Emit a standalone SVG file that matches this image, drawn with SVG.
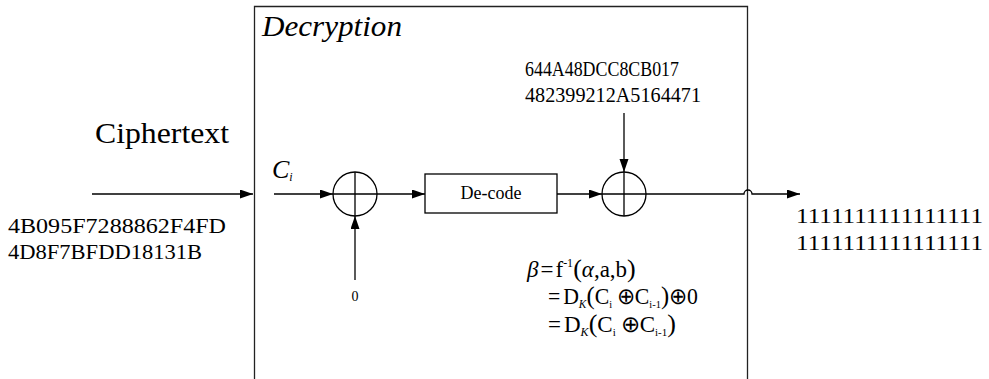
<svg xmlns="http://www.w3.org/2000/svg" width="989" height="379" viewBox="0 0 989 379">
<style>
  text { font-family: "Liberation Serif", "Times New Roman", serif; fill: #000; }
  .ln { fill: none; stroke: #000; stroke-width: 1.3; }
  .shape { fill: #fff; stroke: #000; stroke-width: 1.3; }
  .frame { fill: none; stroke: #222; stroke-width: 1.3; }
</style>
<defs>
  <marker id="ah" markerUnits="userSpaceOnUse" markerWidth="14" markerHeight="10" refX="13" refY="4.5" orient="auto">
    <path d="M0,0 L13,4.5 L0,9 z" fill="#000"/>
  </marker>
</defs>
<rect width="989" height="379" fill="#fff"/>

<g id="decryption-frame">
  <path class="frame" d="M254.5,379 V6.5 H747.5 V379"/>
  <text x="262" y="36" font-size="29" font-style="italic" textLength="140" lengthAdjust="spacingAndGlyphs">Decryption</text>
</g>

<g id="connectors">
  <path class="ln" d="M92,194 H253" marker-end="url(#ah)"/>
  <path class="ln" d="M274,194 H333" marker-end="url(#ah)"/>
  <path class="ln" d="M377,194 H425" marker-end="url(#ah)"/>
  <path class="ln" d="M557,194 H602" marker-end="url(#ah)"/>
  <path class="ln" d="M624,113 V172" marker-end="url(#ah)"/>
  <path class="ln" d="M355,280 V216" marker-end="url(#ah)"/>
  <path class="ln" d="M646,194 H744 A4,4 0 0 1 752,194 H800" marker-end="url(#ah)"/>
</g>

<g id="ciphertext-input">
  <text x="95" y="143" font-size="29" textLength="134" lengthAdjust="spacingAndGlyphs">Ciphertext</text>
  <text x="8" y="233" font-size="21" textLength="218" lengthAdjust="spacingAndGlyphs">4B095F7288862F4FD</text>
  <text x="8" y="259" font-size="21" textLength="194" lengthAdjust="spacingAndGlyphs">4D8F7BFDD18131B</text>
</g>

<g id="ci-label">
  <text x="272" y="178" font-size="26" font-style="italic">C<tspan font-size="12" dy="3">i</tspan></text>
</g>

<g id="xor1">
  <circle class="shape" cx="355" cy="194" r="22"/>
  <path class="ln" d="M333,194 H377 M355,172 V216"/>
</g>

<g id="zero-input">
  <text x="355" y="301" font-size="14" text-anchor="middle">0</text>
</g>

<g id="decode">
  <rect class="shape" x="425" y="174" width="132" height="39"/>
  <text x="491" y="199" font-size="18" text-anchor="middle">De-code</text>
</g>

<g id="xor2">
  <circle class="shape" cx="624" cy="194" r="22"/>
  <path class="ln" d="M602,194 H646 M624,172 V216"/>
</g>

<g id="key">
  <text x="525" y="76" font-size="22" textLength="154" lengthAdjust="spacingAndGlyphs">644A48DCC8CB017</text>
  <text x="525" y="102" font-size="22" textLength="176" lengthAdjust="spacingAndGlyphs">482399212A5164471</text>
</g>

<g id="output">
  <text x="796" y="223" font-size="21" textLength="187" lengthAdjust="spacingAndGlyphs">1111111111111111</text>
  <text x="796" y="250" font-size="21" textLength="187" lengthAdjust="spacingAndGlyphs">1111111111111111</text>
</g>

<g id="equations">
  <text x="527" y="277" font-size="23"><tspan font-style="italic">β</tspan><tspan dx="2">=</tspan><tspan dx="2">f</tspan><tspan font-size="12" dy="-10">-1</tspan><tspan dy="10" font-size="26">(</tspan><tspan font-style="italic">α</tspan>,a,b<tspan font-size="26">)</tspan></text>
  <text x="548" y="304" font-size="23" textLength="150" lengthAdjust="spacingAndGlyphs">=<tspan dx="3">D</tspan><tspan font-size="12" font-style="italic" dy="4">K</tspan><tspan font-size="26" dy="-4">(</tspan>C<tspan font-size="11" dy="4">i</tspan><tspan dy="-4" dx="5">⊕</tspan>C<tspan font-size="11" dy="4">i-1</tspan><tspan font-size="26" dy="-4">)</tspan>⊕0</text>
  <text x="548" y="332" font-size="23">=<tspan dx="3">D</tspan><tspan font-size="12" font-style="italic" dy="4">K</tspan><tspan font-size="26" dy="-4">(</tspan>C<tspan font-size="11" dy="4">i</tspan><tspan dy="-4" dx="5">⊕</tspan>C<tspan font-size="11" dy="4">i-1</tspan><tspan font-size="26" dy="-4">)</tspan></text>
</g>
</svg>
